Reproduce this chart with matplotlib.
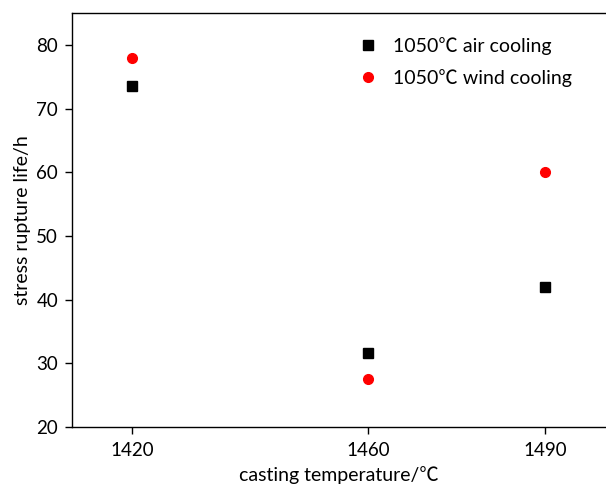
import matplotlib
matplotlib.use("Agg")
import matplotlib.pyplot as plt

plt.rcParams['font.family'] = ['Lato', 'Noto Sans CJK SC', 'DejaVu Sans']

temps = [1420, 1460, 1490]
air_cooling = [73.5, 31.6, 42.0]
wind_cooling = [78.0, 27.5, 60.0]
yticks = [20, 30, 40, 50, 60, 70, 80]

fig = plt.figure(figsize=(6.06, 4.86), dpi=100)
ax = fig.add_axes([72/606, 1-427/486, 1-72/606, (427-13)/486])

ax.plot(temps, air_cooling, 's', color='black', markersize=6.5, linestyle='none',
        label='1050℃ air cooling')
ax.plot(temps, wind_cooling, 'o', color='red', markersize=7, linestyle='none',
        label='1050℃ wind cooling')

ax.set_xlim(1409.8, 1500.3)
ax.set_ylim(20, 85)
ax.set_xticks(temps)
ax.set_yticks(yticks)
ax.tick_params(direction='out', length=5, width=1, labelsize=13.5, pad=6)
ax.tick_params(axis='y', pad=5)
ax.spines['right'].set_visible(False)
for s in ['left', 'top', 'bottom']:
    ax.spines[s].set_linewidth(1.0)

ax.set_xlabel('casting temperature/℃', fontsize=14, labelpad=5)
ax.set_ylabel('stress rupture life/h', fontsize=14, labelpad=4)

ax.legend(loc='upper left', bbox_to_anchor=(0.5, 0.985), frameon=False, fontsize=14,
          handletextpad=0.7, labelspacing=0.72, handlelength=1.2)

fig.savefig('out.png', dpi=100)
